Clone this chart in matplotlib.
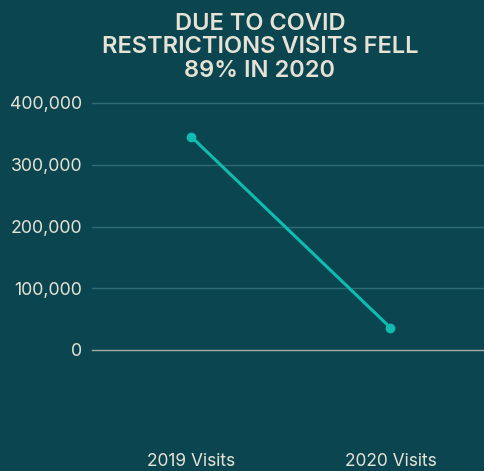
import matplotlib
matplotlib.use("Agg")
import matplotlib.pyplot as plt
from matplotlib.ticker import FuncFormatter

categories = ["2019 Visits", "2020 Visits"]
visits = [345000, 36000]
yticks = [0, 100000, 200000, 300000, 400000]
title = "DUE TO COVID\nRESTRICTIONS VISITS FELL\n89% IN 2020"

BG = "#0b4650"
TXT = "#e6e3d6"
GRID = "#2e6b72"
ZERO = "#a3aba2"
LINE = "#10bcb0"

plt.rcParams['font.family'] = ['Inter', 'DejaVu Sans']

fig = plt.figure(figsize=(4.85, 4.71), dpi=100, facecolor=BG)
ax = fig.add_axes([92/485, 1-350/471, 398/485, (350-103)/471])
ax.set_facecolor(BG)

x = list(range(len(categories)))
ax.plot(x, visits, color=LINE, lw=2.2, marker='o', ms=6, zorder=3, clip_on=False)

ax.set_xlim(-0.5, len(categories) - 0.5)
ax.set_ylim(0, 400000)
ax.set_yticks(yticks)
ax.yaxis.set_major_formatter(FuncFormatter(lambda v, p: f"{int(v):,}"))
ax.set_xticks(x)
ax.set_xticklabels(categories)

for v in yticks:
    ax.axhline(v, color=ZERO if v == 0 else GRID, lw=1.0, zorder=1, clip_on=False)

for s in ax.spines.values():
    s.set_visible(False)

ax.tick_params(axis='y', length=0, pad=7, labelsize=12.8, labelcolor=TXT)
ax.tick_params(axis='x', length=0, pad=74, labelsize=12.5, labelcolor=TXT)

fig.text(260/485, 1-13/471, title, ha='center', va='top', color=TXT,
         fontsize=17, fontweight='semibold', linespacing=1.08)

fig.savefig("out.png", dpi=100, facecolor=BG)
